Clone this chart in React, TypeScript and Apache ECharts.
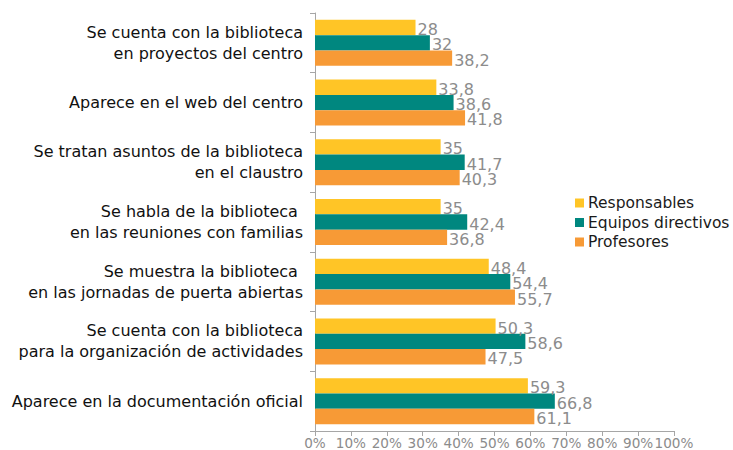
import React, { useEffect, useRef } from "react";
import * as echarts from "echarts";

const categories = [
  "Se cuenta con la biblioteca\nen proyectos del centro",
  "Aparece en el web del centro",
  "Se tratan asuntos de la biblioteca\nen el claustro",
  "Se habla de la biblioteca \nen las reuniones con familias",
  "Se muestra la biblioteca \nen las jornadas de puerta abiertas",
  "Se cuenta con la biblioteca\npara la organización de actividades",
  "Aparece en la documentación oficial",
];
const seriesNames = ["Responsables", "Equipos directivos", "Profesores"];
const responsables = [28, 33.8, 35, 35, 48.4, 50.3, 59.3];
const equipos = [32, 38.6, 41.7, 42.4, 54.4, 58.6, 66.8];
const profesores = [38.2, 41.8, 40.3, 36.8, 55.7, 47.5, 61.1];
const colors = ["#FFC526", "#00877F", "#F79A36"];

export default function App() {
  const ref = useRef<HTMLDivElement>(null);
  useEffect(() => {
    document.body.style.margin = "0";
    const chart = echarts.init(ref.current!, undefined, { renderer: "svg" });
    const font = "DejaVu Sans, Verdana, sans-serif";
    const mk = (name: string, data: number[], color: string) => ({
      name,
      type: "bar",
      data,
      barGap: "0%",
      barCategoryGap: "23%",
      itemStyle: { color },
      label: {
        show: true,
        position: "right",
        distance: 2,
        offset: [0, 2],
        color: "#8C8C8C",
        fontSize: 16,
        fontFamily: font,
        formatter: (p: any) => String(p.value).replace(".", ","),
      },
    });
    chart.setOption({
      animation: false,
      textStyle: { fontFamily: font },
      grid: { left: 315, right: 59, top: 13, bottom: 18, containLabel: false },
      legend: {
        orient: "vertical",
        left: 570,
        top: 190,
        itemWidth: 9,
        itemHeight: 9,
        itemGap: 3.5,
        icon: "rect",
        data: seriesNames,
        textStyle: { fontSize: 15.5, color: "#1a1a1a", fontFamily: font, padding: [0, 0, 0, -1] },
      },
      xAxis: {
        type: "value",
        min: 0,
        max: 100,
        interval: 10,
        axisLine: { show: true, lineStyle: { color: "#A6A6A6" } },
        axisTick: { show: true, length: 5, lineStyle: { color: "#A6A6A6" } },
        splitLine: { show: false },
        axisLabel: {
          color: "#8C8C8C",
          fontSize: 13.6,
          fontFamily: font,
          formatter: "{value}%",
          margin: 5,
          showMinLabel: true,
          showMaxLabel: true,
        },
      },
      yAxis: {
        type: "category",
        inverse: true,
        data: categories,
        axisLine: { show: true, lineStyle: { color: "#A6A6A6" } },
        axisTick: { show: true, length: 5, alignWithLabel: false, lineStyle: { color: "#A6A6A6" } },
        axisLabel: { color: "#111", fontSize: 16, fontFamily: font, margin: 12, lineHeight: 21, align: "right" },
      },
      series: [
        mk(seriesNames[0], responsables, colors[0]),
        mk(seriesNames[1], equipos, colors[1]),
        mk(seriesNames[2], profesores, colors[2]),
      ],
    });
    return () => chart.dispose();
  }, []);
  return <div ref={ref} style={{ width: 733, height: 450 }} />;
}
